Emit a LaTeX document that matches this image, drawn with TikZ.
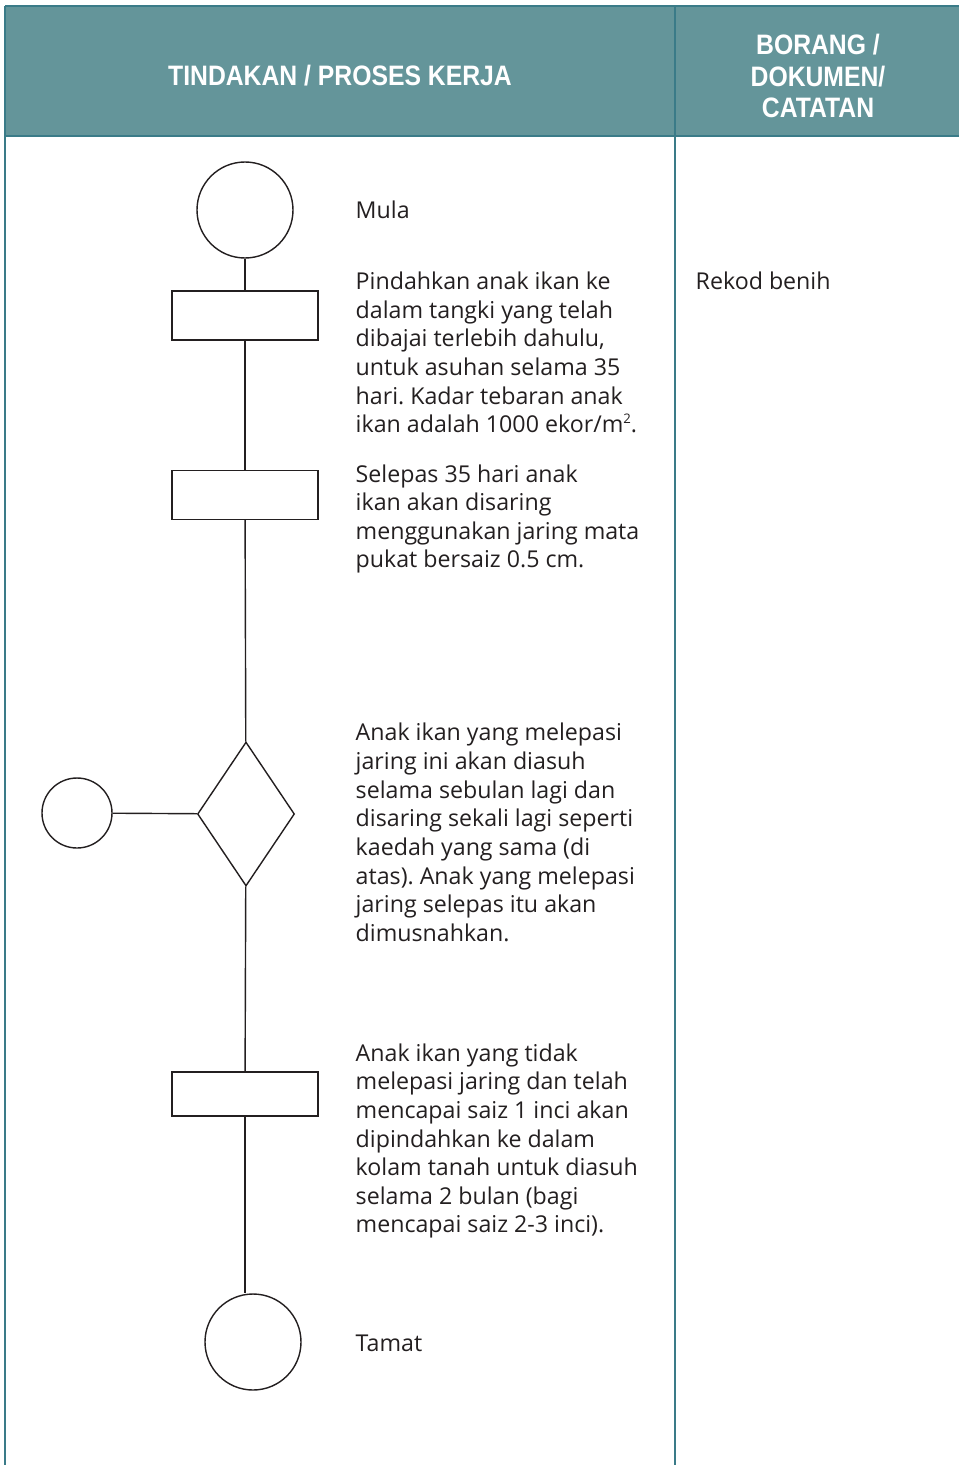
\documentclass[tikz,border=0pt]{standalone}
\usepackage{fontspec}
\usepackage{xcolor}
\usepackage{tikz}
\usetikzlibrary{positioning,shapes.geometric}
\setmainfont{Open Sans}
\newfontfamily\headfont[FakeStretch=0.88]{Liberation Sans}
\definecolor{SopTeal}{HTML}{64959A}
\definecolor{SopEdge}{HTML}{3A7B88}
\definecolor{SopInk}{HTML}{231F20}
\frenchspacing

\begin{document}
\begin{tikzpicture}[line width=0.8pt,
    terminal/.style={circle,draw=SopInk,minimum size=1.92cm,inner sep=0},
    prosesbox/.style={rectangle,draw=SopInk,minimum width=2.92cm,minimum height=0.98cm,inner sep=0},
    keputusan/.style={diamond,draw=SopInk,minimum width=1.94cm,minimum height=2.88cm,inner sep=0},
    langkah/.style={anchor=west,align=left,inner sep=0,text=SopInk,
      font=\fontsize{13.2}{16.3}\selectfont},
    tajuk/.style={align=center,text=white,inner sep=0,
      font=\headfont\bfseries\fontsize{16}{18.1}\selectfont}]
  \useasboundingbox (0,0) rectangle (19.18,-29.3);
  % header row
  \fill[SopTeal] (0.1,-0.12) rectangle (19.18,-2.72);
  \draw[SopEdge] (0.1,-0.12) -- (19.18,-0.12);
  \draw[SopEdge] (0.1,-2.72) -- (19.18,-2.72);
  \draw[SopEdge] (0.1,-0.12) -- (0.1,-29.3);
  \draw[SopEdge] (13.5,-0.12) -- (13.5,-29.3);
  \node[tajuk] (hKerja) at (6.8,-1.52) {TINDAKAN / PROSES KERJA};
  \node[tajuk] (hBorang) at (16.36,-1.52) {BORANG /\\DOKUMEN/\\CATATAN};

  % flow shapes
  \node[terminal] (mula) at (4.9,-4.2) {};
  \node[prosesbox] (pindah) at (4.9,-6.31) {};
  \node[prosesbox] (saring) at (4.9,-9.9) {};
  \node[keputusan] (semak) at (4.92,-16.28) {};
  \node[terminal,minimum size=1.4cm] (buang) at (1.54,-16.26) {};
  \node[prosesbox,minimum height=0.88cm] (kolam) at (4.9,-21.88) {};
  \node[terminal] (tamat) at (5.06,-26.84) {};

  \draw[SopInk] (mula) -- (pindah);
  \draw[SopInk] (pindah) -- (saring);
  \draw[SopInk] (saring) -- (semak);
  \draw[SopInk] (buang) -- (semak);
  \draw[SopInk] (semak) -- (kolam);
  \draw[SopInk] (kolam.south) -- (kolam.south |- tamat.north);

  % step texts
  \node[langkah] (tMula) at (7.1,-4.2) {Mula};
  \node[langkah] (tPindah) at (7.1,-7.05) {Pindahkan anak ikan ke\\dalam tangki yang telah\\dibajai terlebih dahulu,\\untuk asuhan selama 35\\hari. Kadar tebaran anak\\ikan adalah 1000 ekor/m\raisebox{0.75ex}{\fontsize{7.5}{8}\selectfont 2}.};
  \node[langkah] (tSaring) at (7.1,-10.38) {Selepas 35 hari anak\\ikan akan disaring\\menggunakan jaring mata\\pukat bersaiz 0.5 cm.};
  \node[langkah] (tSemak) at (7.1,-16.65) {Anak ikan yang melepasi\\jaring ini akan diasuh\\selama sebulan lagi dan\\disaring sekali lagi seperti\\kaedah yang sama (di\\atas). Anak yang melepasi\\jaring selepas itu akan\\dimusnahkan.};
  \node[langkah] (tKolam) at (7.1,-22.82) {Anak ikan yang tidak\\melepasi jaring dan telah\\mencapai saiz 1 inci akan\\dipindahkan ke dalam\\kolam tanah untuk diasuh\\selama 2 bulan (bagi\\mencapai saiz 2-3 inci).};
  \node[langkah] (tTamat) at (7.1,-26.86) {Tamat};
  \node[langkah] (tRekod) at (13.9,-5.62) {Rekod benih};
\end{tikzpicture}
\end{document}
